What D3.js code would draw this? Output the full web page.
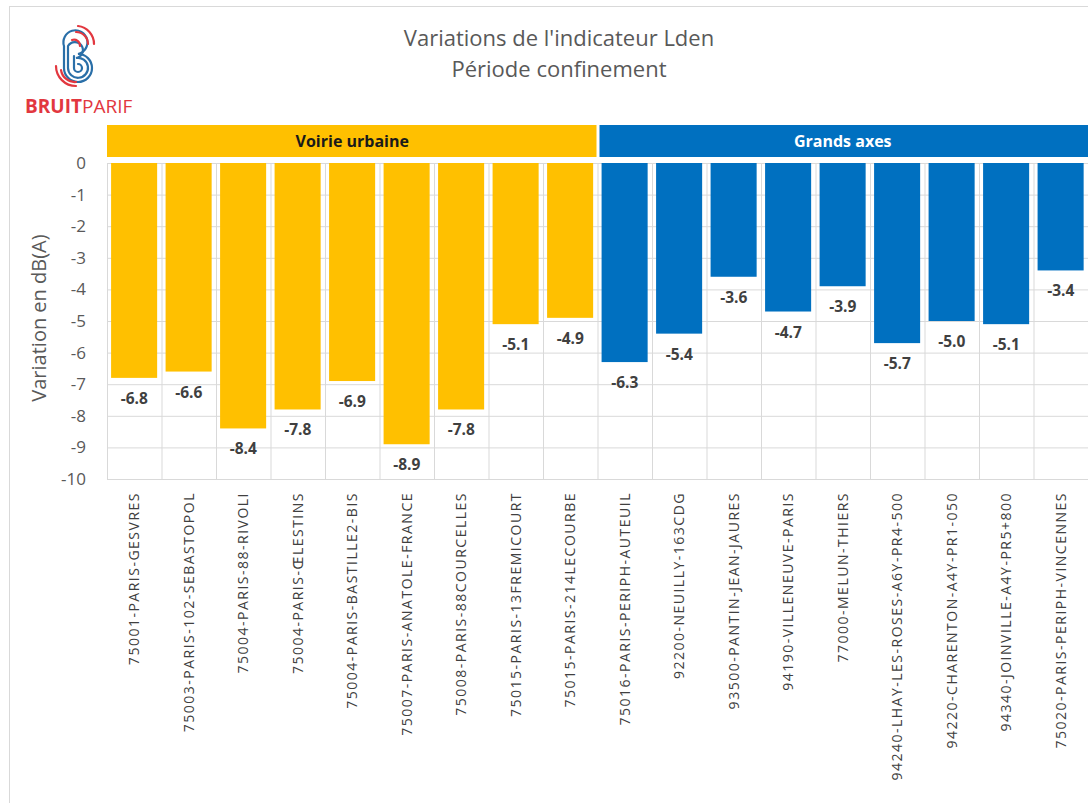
<!DOCTYPE html>
<html>

<head>
    <meta charset="utf-8">
    <title>Variations de l'indicateur Lden</title>
    <script src="https://cdn.jsdelivr.net/npm/d3@7"></script>
    <style>
        body {
            margin: 0;
            background: #fff;
        }

        svg {
            font-family: "Open Sans", "Noto Sans", sans-serif;
        }

        .tick line {
            stroke: #d9d9d9;
        }
    </style>
</head>

<body>
    <script>
        // Stations, grouped by road type
        const voirieStations = ['75001-PARIS-GESVRES', '75003-PARIS-102-SEBASTOPOL', '75004-PARIS-88-RIVOLI',
            '75004-PARIS-ŒLESTINS', '75004-PARIS-BASTILLE2-BIS', '75007-PARIS-ANATOLE-FRANCE',
            '75008-PARIS-88COURCELLES', '75015-PARIS-13FREMICOURT', '75015-PARIS-214LECOURBE'];
        const voirieValues = [-6.8, -6.6, -8.4, -7.8, -6.9, -8.9, -7.8, -5.1, -4.9];

        const axesStations = ['75016-PARIS-PERIPH-AUTEUIL', '92200-NEUILLY-163CDG', '93500-PANTIN-JEAN-JAURES',
            '94190-VILLENEUVE-PARIS', '77000-MELUN-THIERS', '94240-LHAY-LES-ROSES-A6Y-PR4-500',
            '94220-CHARENTON-A4Y-PR1-050', '94340-JOINVILLE-A4Y-PR5+800', '75020-PARIS-PERIPH-VINCENNES'];
        const axesValues = [-6.3, -5.4, -3.6, -4.7, -3.9, -5.7, -5.0, -5.1, -3.4];

        const groups = ['Voirie urbaine', 'Grands axes'];
        const yTicks = [0, -1, -2, -3, -4, -5, -6, -7, -8, -9, -10];

        const data = [
            ...voirieStations.map((name, i) => ({ name, value: voirieValues[i], group: groups[0] })),
            ...axesStations.map((name, i) => ({ name, value: axesValues[i], group: groups[1] }))
        ];

        const width = 1088;
        const height = 803;
        const plot = { left: 107, right: 1088, top: 163, bottom: 479 };

        const svg = d3.select('body')
            .append('svg')
            .attr('width', width)
            .attr('height', height);

        // outer frame of the chart area
        svg.append('rect')
            .attr('x', 9.5)
            .attr('y', 6.5)
            .attr('width', 1100)
            .attr('height', 820)
            .attr('fill', 'none')
            .attr('stroke', '#d9d9d9');

        const xScale = d3.scaleBand()
            .domain(data.map(d => d.name))
            .range([plot.left, plot.right])
            .padding(0);

        const yScale = d3.scaleLinear()
            .domain([-10, 0])
            .range([plot.bottom, plot.top]);

        const colorScale = d3.scaleOrdinal()
            .domain(groups)
            .range(['#FFC000', '#0070C0']);

        // horizontal gridlines
        svg.append('g')
            .attr('transform', `translate(${plot.left}, 0)`)
            .call(d3.axisLeft(yScale).tickValues(yTicks).tickSize(-(plot.right - plot.left)).tickFormat(''))
            .call(g => g.select('.domain').remove());

        // vertical gridlines at category boundaries
        const bw = xScale.bandwidth();
        svg.append('g')
            .selectAll('line')
            .data(data)
            .join('line')
            .attr('x1', d => xScale(d.name) + 0.5)
            .attr('x2', d => xScale(d.name) + 0.5)
            .attr('y1', plot.top)
            .attr('y2', plot.bottom)
            .attr('stroke', '#d9d9d9');

        // y tick labels (plain hyphen for the minus sign, as in Excel)
        svg.append('g')
            .attr('transform', `translate(${plot.left}, 0)`)
            .call(d3.axisLeft(yScale).tickValues(yTicks).tickSize(0).tickPadding(21).tickFormat(d => String(d)))
            .call(g => g.select('.domain').remove())
            .call(g => g.selectAll('text')
                .attr('fill', '#595959')
                .style('font-size', '17px')
                .style('font-family', '"Open Sans", sans-serif'));

        // bars
        svg.selectAll('.bar')
            .data(data)
            .enter()
            .append('rect')
            .attr('class', 'bar')
            .attr('x', d => xScale(d.name) + bw * 0.075)
            .attr('y', yScale(0))
            .attr('width', bw * 0.845)
            .attr('height', d => yScale(d.value) - yScale(0))
            .attr('fill', d => colorScale(d.group));

        // data labels below each bar
        svg.selectAll('.bar-label')
            .data(data)
            .enter()
            .append('text')
            .attr('class', 'bar-label')
            .attr('x', d => xScale(d.name) + bw / 2)
            .attr('y', d => yScale(d.value) + 26)
            .attr('text-anchor', 'middle')
            .attr('fill', '#404040')
            .style('font-size', '15.5px')
            .style('font-weight', 'bold')
            .text(d => d.value.toFixed(1));

        // x axis labels, rotated
        svg.append('g')
            .attr('transform', `translate(0, ${plot.bottom})`)
            .call(d3.axisBottom(xScale).tickSize(0).tickFormat(d => d))
            .call(g => g.select('.domain').remove())
            .call(g => g.selectAll('text')
                .attr('transform', 'rotate(-90)')
                .attr('text-anchor', 'end')
                .attr('x', -13)
                .attr('y', 0)
                .attr('dy', '0.35em')
                .attr('fill', '#404040')
                .style('font-size', '14px')
                .style('letter-spacing', '1.5px')
                .style('font-family', '"Open Sans", sans-serif'));

        // group header bands
        const headers = groups.map(g => {
            const names = data.filter(d => d.group === g).map(d => d.name);
            return { group: g, x0: xScale(names[0]), x1: xScale(names[names.length - 1]) + bw };
        });

        svg.selectAll('.header')
            .data(headers)
            .enter()
            .append('rect')
            .attr('class', 'header')
            .attr('x', (d, i) => d.x0 + (i === 0 ? 0 : 2))
            .attr('y', 125)
            .attr('width', (d, i) => d.x1 - d.x0 - (i === 0 ? 1 : 2))
            .attr('height', 32)
            .attr('fill', d => colorScale(d.group));

        svg.selectAll('.header-label')
            .data(headers)
            .enter()
            .append('text')
            .attr('x', d => (d.x0 + d.x1) / 2)
            .attr('y', 147)
            .attr('text-anchor', 'middle')
            .attr('fill', (d, i) => i === 0 ? '#1a1a1a' : '#ffffff')
            .style('font-size', '16px')
            .style('font-weight', 'bold')
            .text(d => d.group);

        // y axis title
        svg.append('text')
            .attr('transform', 'rotate(-90)')
            .attr('x', -318)
            .attr('y', 46)
            .attr('text-anchor', 'middle')
            .attr('fill', '#595959')
            .style('font-size', '20px')
            .text('Variation en dB(A)');

        // chart title
        svg.append('text')
            .attr('x', 559)
            .attr('y', 46)
            .attr('text-anchor', 'middle')
            .attr('fill', '#595959')
            .style('font-size', '22px')
            .text("Variations de l'indicateur Lden");

        svg.append('text')
            .attr('x', 559)
            .attr('y', 77)
            .attr('text-anchor', 'middle')
            .attr('fill', '#595959')
            .style('font-size', '22px')
            .text('Période confinement');

        // Bruitparif logo (approximation)
        const logo = svg.append('g')
            .attr('transform', 'translate(76, 56)')
            .attr('fill', 'none')
            .attr('stroke-width', 2.2)
            .attr('stroke-linecap', 'round');

        logo.append('path')
            .attr('stroke', '#2a6fa8')
            .attr('d', 'M -12 -10 L -12 12 A 14 14 0 1 0 2 -2 A 12 12 0 1 0 -12 -10');
        logo.append('path')
            .attr('stroke', '#2a6fa8')
            .attr('d', 'M -8 -10 L -8 12 A 10 10 0 1 0 0 2 A 8 8 0 1 0 -8 -10');
        logo.append('path')
            .attr('stroke', '#2a6fa8')
            .attr('d', 'M -2 0 L -2 12 A 4 4 0 1 0 2 8');
        logo.append('path')
            .attr('stroke', '#e2373f')
            .attr('d', 'M 2 -30 A 18 18 0 0 1 18 -12');
        logo.append('path')
            .attr('stroke', '#e2373f')
            .attr('d', 'M 0 -24 A 12 12 0 0 1 12 -12');
        logo.append('path')
            .attr('stroke', '#e2373f')
            .attr('d', 'M -4 -16 A 6 6 0 0 1 4 -10');
        logo.append('path')
            .attr('stroke', '#e2373f')
            .attr('d', 'M -20 10 A 20 20 0 0 0 0 30');
        logo.append('path')
            .attr('stroke', '#e2373f')
            .attr('d', 'M -15 14 A 14 14 0 0 0 0 26');

        const brand = svg.append('text')
            .attr('x', 25)
            .attr('y', 113)
            .attr('fill', '#e2373f')
            .style('font-size', '19px');
        brand.append('tspan').style('font-weight', 'bold').text('BRUIT');
        brand.append('tspan').text('PARIF');
    </script>
</body>

</html>
